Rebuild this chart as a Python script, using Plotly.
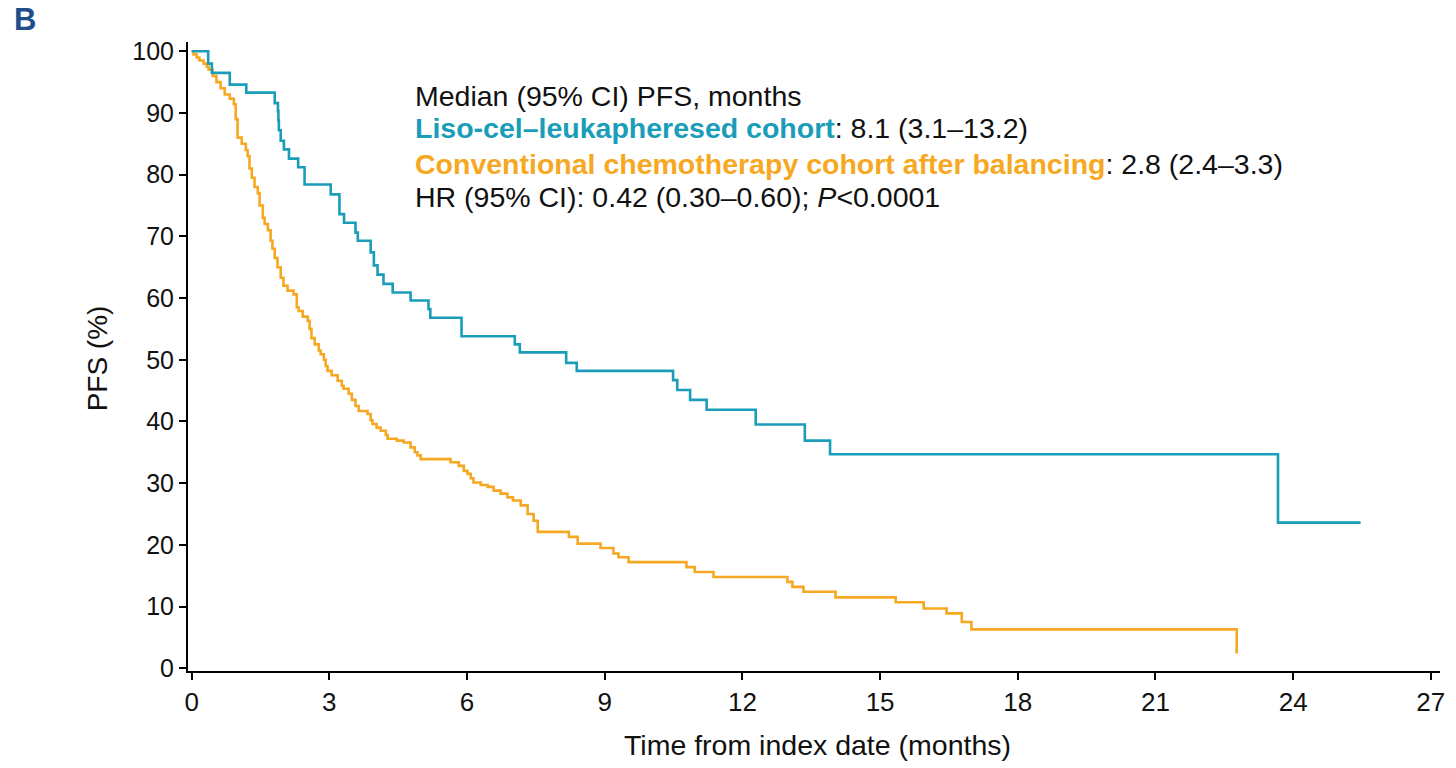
import plotly.graph_objects as go

# Liso-cel–leukapheresed cohort (months, PFS %)
blue_t = [0, 0.36, 0.44, 0.83, 1.19, 1.81, 1.88, 1.89, 1.90, 1.94, 2.01, 2.12, 2.32, 2.46,
          3.03, 3.22, 3.32, 3.57, 3.62, 3.90, 3.97, 4.05, 4.18, 4.38, 4.77, 5.16, 5.20,
          5.88, 7.04, 7.15, 8.16, 8.39, 10.49, 10.58, 10.86, 11.22, 12.29, 13.36, 13.91,
          23.67, 25.47]
blue_v = [100, 98.0, 96.5, 94.6, 93.3, 91.6, 90.3, 88.8, 87.2, 85.5, 84.1, 82.6, 81.2, 78.4,
          76.8, 73.6, 72.2, 70.6, 69.3, 67.4, 65.3, 63.8, 62.3, 60.9, 59.6, 58.2, 56.8,
          53.8, 52.5, 51.2, 49.5, 48.2, 46.7, 45.1, 43.5, 41.9, 39.5, 36.9, 34.7,
          23.6, 23.6]

# Conventional chemotherapy cohort after balancing (months, PFS %)
orange_t = [0, 0.04, 0.11, 0.17, 0.26, 0.33, 0.37, 0.46, 0.54, 0.63, 0.72, 0.83, 0.92, 0.96,
            1.00, 1.09, 1.18, 1.22, 1.26, 1.31, 1.37, 1.44, 1.48, 1.55, 1.59, 1.66, 1.72,
            1.76, 1.81, 1.87, 1.94, 2.00, 2.09, 2.22, 2.29, 2.33, 2.42, 2.53, 2.57, 2.61,
            2.68, 2.77, 2.81, 2.88, 2.92, 2.96, 3.05, 3.18, 3.27, 3.31, 3.42, 3.49, 3.57,
            3.64, 3.83, 3.90, 3.94, 4.03, 4.12, 4.23, 4.27, 4.47, 4.62, 4.77, 4.86, 4.92,
            4.99, 5.64, 5.82, 5.93, 6.01, 6.08, 6.14, 6.30, 6.45, 6.58, 6.73, 6.88, 7.00,
            7.17, 7.32, 7.45, 7.54, 8.22, 8.41, 8.91, 9.19, 9.30, 9.52, 10.78, 10.96,
            11.37, 12.98, 13.09, 13.33, 14.03, 15.34, 15.95, 16.45, 16.78, 16.99, 22.77]
orange_v = [100, 99.5, 99.0, 98.5, 98.0, 97.5, 97.0, 96.0, 95.0, 94.0, 93.0, 92.3, 91.4, 89.0,
            86.0, 85.0, 84.0, 83.0, 81.0, 79.5, 78.0, 77.0, 75.0, 73.0, 72.0, 71.0, 69.3,
            68.0, 66.5, 65.0, 63.3, 62.0, 61.2, 60.6, 58.5, 57.9, 57.0, 56.3, 55.0, 53.5,
            52.5, 51.5, 50.9, 50.0, 49.0, 48.2, 47.5, 46.6, 45.8, 45.3, 44.5, 43.5, 42.5,
            41.7, 41.2, 40.2, 39.6, 39.0, 38.5, 37.8, 37.2, 36.9, 36.6, 35.8, 35.0, 34.5,
            33.9, 33.4, 32.8, 32.0, 31.5, 30.8, 30.1, 29.7, 29.4, 28.8, 28.3, 27.7, 27.2,
            26.4, 25.0, 23.9, 22.1, 21.3, 20.2, 19.5, 18.6, 18.0, 17.2, 16.4, 15.6,
            14.8, 14.0, 13.2, 12.4, 11.5, 10.7, 9.7, 8.9, 7.5, 6.3, 2.4]

x_ticks = [0, 3, 6, 9, 12, 15, 18, 21, 24, 27]
y_ticks = [0, 10, 20, 30, 40, 50, 60, 70, 80, 90, 100]

BLUE = "#1A9DB8"
ORANGE = "#F7A823"
FONT = "Liberation Sans, Arial, sans-serif"

fig = go.Figure()
fig.add_trace(go.Scatter(x=orange_t, y=orange_v, mode="lines", line=dict(shape="hv", color=ORANGE, width=2.6),
                         name="Conventional chemotherapy cohort after balancing"))
fig.add_trace(go.Scatter(x=blue_t, y=blue_v, mode="lines", line=dict(shape="hv", color=BLUE, width=2.6),
                         name="Liso-cel–leukapheresed cohort"))

lines = [
    ("Median (95% CI) PFS, months", 92.8),
    (f"<b><span style='color:{BLUE}'>Liso-cel–leukapheresed cohort</span></b>: 8.1 (3.1–13.2)", 87.5),
    (f"<b><span style='color:{ORANGE}'>Conventional chemotherapy cohort after balancing</span></b>: 2.8 (2.4–3.3)", 81.8),
    ("HR (95% CI): 0.42 (0.30–0.60); <i>P</i><0.0001", 76.3),
]
for txt, yv in lines:
    fig.add_annotation(x=4.82, y=yv, xref="x", yref="y", text=txt, showarrow=False,
                       xanchor="left", yanchor="middle", align="left",
                       font=dict(family=FONT, size=28.5, color="#111111"))

# panel label
fig.add_annotation(x=-0.1406, y=1.035, xref="paper", yref="paper", text="<b>B</b>", showarrow=False,
                   xanchor="left", yanchor="middle",
                   font=dict(family=FONT, size=31, color="#1F4E8C"))
# axis titles
fig.add_annotation(x=0.503, y=-0.1176, xref="paper", yref="paper", text="Time from index date (months)",
                   showarrow=False, xanchor="center", yanchor="middle",
                   font=dict(family=FONT, size=28.5, color="#111111"))
fig.add_annotation(x=-0.0727, y=0.497, xref="paper", yref="paper", text="PFS (%)", textangle=-90,
                   showarrow=False, xanchor="center", yanchor="middle",
                   font=dict(family=FONT, size=28, color="#111111"))

fig.update_layout(
    width=1456, height=768,
    margin=dict(l=188, r=16, t=42, b=97, autoexpand=False),
    paper_bgcolor="white", plot_bgcolor="white",
    showlegend=False,
    font=dict(family=FONT, size=25, color="#111111"),
    xaxis=dict(range=[-0.08, 27.2], tickvals=x_ticks, ticktext=[str(v) for v in x_ticks],
               showline=True, linecolor="black", linewidth=2, ticks="outside", ticklen=7,
               tickwidth=2, tickcolor="black", showgrid=False, zeroline=False, automargin=False,
               tickfont=dict(size=26)),
    yaxis=dict(range=[-0.44, 101.5], tickvals=y_ticks, ticktext=[str(v) for v in y_ticks],
               showline=True, linecolor="black", linewidth=2, ticks="outside", ticklen=7,
               tickwidth=2, tickcolor="black", showgrid=False, zeroline=False, automargin=False,
               tickfont=dict(size=25)),
)

fig.write_html("out.html")
